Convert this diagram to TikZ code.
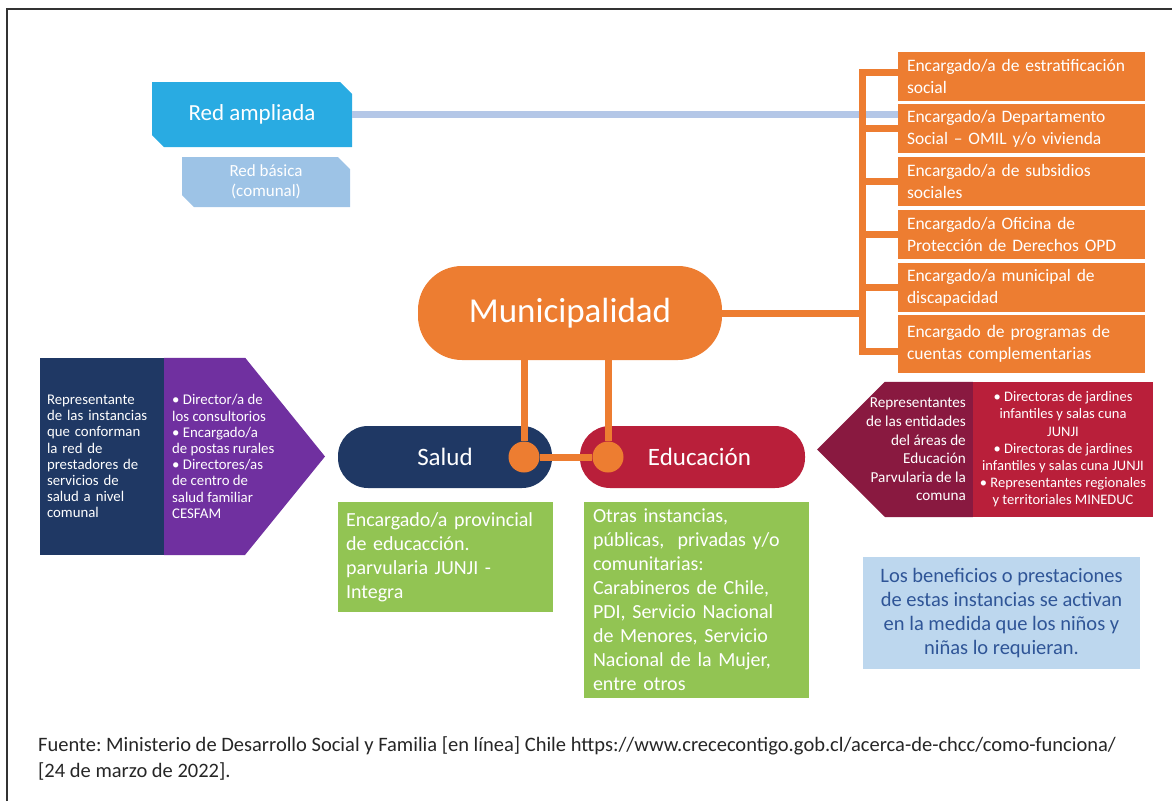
\documentclass[tikz,border=0pt]{standalone}
\usepackage{fontspec}
\setmainfont{Carlito}
\frenchspacing
\definecolor{muniorange}{RGB}{237, 125, 49}
\definecolor{saludnavy}{RGB}{31, 56, 100}
\definecolor{saludpurple}{RGB}{112, 48, 160}
\definecolor{educred}{RGB}{185, 31, 58}
\definecolor{educmaroon}{RGB}{137, 25, 64}
\definecolor{boxgreen}{RGB}{146, 196, 83}
\definecolor{notebg}{RGB}{189, 215, 238}
\definecolor{notetext}{RGB}{47, 85, 151}
\definecolor{redampl}{RGB}{41, 171, 226}
\definecolor{redbasic}{RGB}{157, 195, 230}
\definecolor{redline}{RGB}{180, 199, 231}
\usetikzlibrary{shapes.misc}

\begin{document}
\begin{tikzpicture}[
  x=1pt, y=-1pt,
  obox/.style={fill=muniorange, text=white, minimum height=49pt, text width=229pt, inner xsep=9pt, inner ysep=0pt, align=left, font=\fontsize{17.5}{22}\selectfont},
  gbox/.style={fill=boxgreen, text=white, inner xsep=8pt, inner ysep=0pt, align=left, font=\fontsize{20}{24}\selectfont},
  pill/.style={text=white, minimum height=62pt, rounded corners=30pt, font=\fontsize{25}{28}\selectfont},
  netbox/.style={chamfered rectangle, chamfered rectangle corners={north east, south west}, chamfered rectangle xsep=6pt, chamfered rectangle ysep=6pt, text=white, align=center, inner sep=0pt},
  small/.style={text=white, inner sep=0pt, font=\fontsize{14.8}{16.2}\selectfont},
  obar/.style={draw=muniorange, line width=7pt},
  dot/.style={circle, fill=muniorange, minimum size=31pt, inner sep=0pt}
]
  \useasboundingbox (0,0) rectangle (1172,801);
  \draw[line width=1.6pt, black!80] (7,801) -- (7,9) -- (1172,9);

  \node[netbox, fill=redampl, minimum width=200pt, minimum height=65pt, font=\fontsize{23}{26}\selectfont] (ampl) at (252,114.5) {Red ampliada};
  \node[netbox, fill=redbasic, minimum width=168pt, minimum height=50pt, font=\fontsize{17}{20}\selectfont] (basic) at (266,182) {Red básica\\(comunal)};

  \node[obox] (o1) at (1021.5,76.5) {Encargado/a de estratificación\\social};
  \node[obox] (o2) at (1021.5,128.5) {Encargado/a Departamento\\Social -- OMIL y/o vivienda};
  \node[obox] (o3) at (1021.5,181.5) {Encargado/a de subsidios\\sociales};
  \node[obox] (o4) at (1021.5,234) {Encargado/a Oficina de\\Protección de Derechos OPD};
  \node[obox] (o5) at (1021.5,287.5) {Encargado/a municipal de\\discapacidad};
  \node[obox, minimum height=58pt] (o6) at (1021.5,344) {Encargado de programas de\\cuentas complementarias};

  \draw[line width=7pt, redline] (ampl.east) -- (o2.west |- ampl.east);

  \coordinate (bt) at (862,72);
  \coordinate (bb) at (862,351);
  \draw[obar] (o1.west |- bt) -- (bt) -- (bb) -- (o6.west |- bb);
  \foreach \n in {o2,o3,o4,o5}
    \draw[obar] (\n.west -| bt) -- (\n.west);

  \node[pill, fill=muniorange, minimum width=304pt, minimum height=94pt, rounded corners=44pt, font=\fontsize{35}{40}\selectfont] (muni) at (570,313) {Municipalidad};
  \draw[obar] (muni.east) -- (muni.east -| bt);

  \node[pill, fill=saludnavy, minimum width=214pt] (salud) at (445,457) {Salud};
  \node[pill, fill=educred, minimum width=225pt] (educ) at (692.5,457) {\hspace{14pt}Educación};
  \node[dot] (d1) at (524,457) {};
  \node[dot] (d2) at (608,457) {};
  \draw[obar] (muni.south -| d1) -- (d1);
  \draw[obar] (muni.south -| d2) -- (d2);
  \draw[obar] (d1) -- (d2);

  \node[small, fill=saludnavy, text width=110pt, inner xsep=7pt, minimum height=197pt, align=left] (rep) at (102,456.5) {Representante\\de las instancias\\que conforman\\la red de\\prestadores de\\servicios de\\salud a nivel\\comunal};
  \fill[saludpurple] (rep.north east) -- ++(81,0) -- (325,456.5) -- (245,555) -- (rep.south east) -- cycle;
  \node[small, anchor=west, align=left] (dirs) at (172,456.5) {• Director/a de\\los consultorios\\• Encargado/a\\de postas rurales\\• Directores/as\\de centro de\\salud familiar\\CESFAM};

  \node[small, fill=educred, minimum width=180pt, minimum height=135pt, align=center, font=\fontsize{14.5}{17.2}\selectfont] (jard) at (1063,449.5) {• Directoras de jardines\\infantiles y salas cuna\\JUNJI\\• Directoras de jardines\\infantiles y salas cuna JUNJI\\• Representantes regionales\\y territoriales MINEDUC};
  \fill[educmaroon] (jard.north west) -- ++(-88,0) -- (817,449.5) -- (885,517) -- (jard.south west) -- cycle;
  \node[small, anchor=east, align=right, font=\fontsize{15.2}{18.6}\selectfont] (ent) at (966,449.5) {Representantes\\de las entidades\\del áreas de\\Educación\\Parvularia de la\\comuna};

  \node[gbox, minimum width=215pt, minimum height=110pt, text width=199pt] (prov) at (445.5,557) {Encargado/a provincial\\de educacción.\\parvularia JUNJI -\\Integra};
  \node[gbox, minimum width=225pt, minimum height=196pt, text width=207pt, inner xsep=9pt] (otras) at (696.5,600) {Otras instancias,\\públicas,~ privadas y/o\\comunitarias:\\Carabineros de Chile,\\PDI, Servicio Nacional\\de Menores, Servicio\\Nacional de la Mujer,\\entre otros};

  \node[fill=notebg, text=notetext, minimum width=277pt, minimum height=112pt, inner sep=0pt, align=center, font=\fontsize{20.5}{24}\selectfont] (nota) at (1001.5,613) {Los beneficios o prestaciones\\de estas instancias se activan\\en la medida que los niños y\\niñas lo requieran.};

  \node[anchor=west, align=left, inner sep=0pt, text=black!85, font=\fontsize{20.5}{26}\selectfont] (fuente) at (38,758) {Fuente: Ministerio de Desarrollo Social y Familia [en línea] Chile https://www.crececontigo.gob.cl/acerca-de-chcc/como-funciona/\\{[24 de marzo de 2022].}};
\end{tikzpicture}
\end{document}
